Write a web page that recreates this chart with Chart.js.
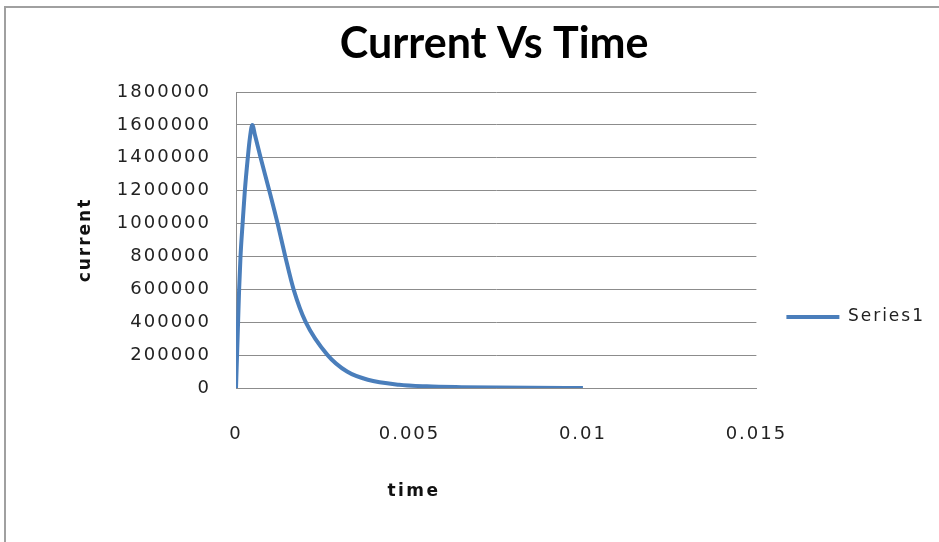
<!DOCTYPE html>
<html>
<head>
<meta charset="utf-8">
<script src="https://cdn.jsdelivr.net/npm/chart.js@4/dist/chart.umd.min.js"></script>
<style>
  html, body { margin: 0; padding: 0; background: #fff; overflow: hidden; }
  #frame { position: absolute; left: 4px; top: 6px; width: 1000px; height: 600px; border: 2px solid #a0a0a0; }
  #currentChart { position: absolute; left: 0; top: 0; }
</style>
</head>
<body>
<div id="frame"></div>
<canvas id="currentChart" width="939" height="542"></canvas>
<script>
// time (s) and current samples
const timeValues = [0, 0.00003, 0.00006, 0.00009, 0.00013, 0.00019, 0.000255, 0.00034, 0.0004, 0.00047,
    0.00055, 0.00071, 0.00096, 0.0012, 0.00142, 0.00166, 0.00201, 0.00264, 0.0032, 0.0038,
    0.0047, 0.0055, 0.0065, 0.0075, 0.0085, 0.01];
const currentValues = [0, 200000, 400000, 600000, 800000, 1000000, 1200000, 1400000, 1520000, 1600000,
    1535000, 1400000, 1200000, 1000000, 800000, 600000, 400000, 200000, 100000, 50000,
    20000, 10000, 5000, 2500, 1200, 300];

const xTickValues = [0, 0.005, 0.01, 0.015];
const yTickValues = [0, 200000, 400000, 600000, 800000, 1000000, 1200000, 1400000, 1600000, 1800000];

const seriesName = 'Series1';
const chartTitle = 'Current Vs Time';

Chart.defaults.font.family = '"DejaVu Sans", Verdana, sans-serif';
Chart.defaults.font.size = 18;
Chart.defaults.color = '#222';

// labels in this chart are drawn with wide letter spacing, except the big title
const spacedText = {
    id: 'spacedText',
    beforeLayout(chart) { chart.ctx.letterSpacing = '2px'; },
    beforeDraw(chart) { chart.ctx.letterSpacing = '2px'; },
    afterDraw(chart) {
        const ctx = chart.ctx;
        const area = chart.chartArea;
        ctx.save();
        ctx.fillStyle = '#111';
        ctx.textAlign = 'center';
        ctx.textBaseline = 'middle';
        ctx.letterSpacing = '2.5px';
        ctx.font = 'bold 17px "DejaVu Sans", sans-serif';
        ctx.fillText('time', 414, 492);
        ctx.letterSpacing = '0px';
        ctx.fillStyle = '#000';
        ctx.textBaseline = 'alphabetic';
        ctx.font = 'bold 43px Lato, "Open Sans", sans-serif';
        ctx.fillText(chartTitle, (area.left + area.right) / 2 - 2, 58);
        ctx.restore();
    }
};

const gridColor = '#8c8c8c';

new Chart(document.getElementById('currentChart'), {
    type: 'line',
    data: {
        datasets: [{
            label: seriesName,
            data: timeValues.map((t, i) => ({ x: t, y: currentValues[i] })),
            borderColor: '#4a7ebb',
            backgroundColor: '#4a7ebb',
            borderWidth: 4,
            pointRadius: 0,
            cubicInterpolationMode: 'monotone',
            fill: false
        }]
    },
    options: {
        responsive: false,
        animation: false,
        layout: { padding: { top: 92, left: 0, right: 4, bottom: 0 } },
        plugins: {
            title: { display: false },
            tooltip: { enabled: false },
            legend: {
                position: 'right',
                labels: {
                    usePointStyle: true,
                    pointStyle: 'line',
                    pointStyleWidth: 53,
                    padding: 30,
                    color: '#222',
                    font: { size: 17 }
                }
            }
        },
        scales: {
            x: {
                type: 'linear',
                min: 0,
                max: 0.015,
                afterBuildTicks: scale => { scale.ticks = xTickValues.map(v => ({ value: v })); },
                afterFit: scale => { scale.height = 542 - 388; },
                grid: { display: false, drawTicks: false },
                border: { display: true, color: gridColor },
                ticks: {
                    padding: 36,
                    callback: v => String(Number(v.toFixed(4)))
                }
            },
            y: {
                min: 0,
                max: 1800000,
                afterBuildTicks: scale => { scale.ticks = yTickValues.map(v => ({ value: v })); },
                afterFit: scale => { scale.width = 236; },
                grid: { color: gridColor, lineWidth: 1, drawTicks: false },
                border: { color: gridColor },
                ticks: {
                    padding: 25,
                    callback: v => String(v)
                },
                title: {
                    display: true,
                    text: 'current',
                    font: { weight: 'bold', size: 17 },
                    color: '#111',
                    padding: { top: 75, bottom: 0 }
                }
            }
        }
    },
    plugins: [spacedText]
});
</script>
</body>
</html>
